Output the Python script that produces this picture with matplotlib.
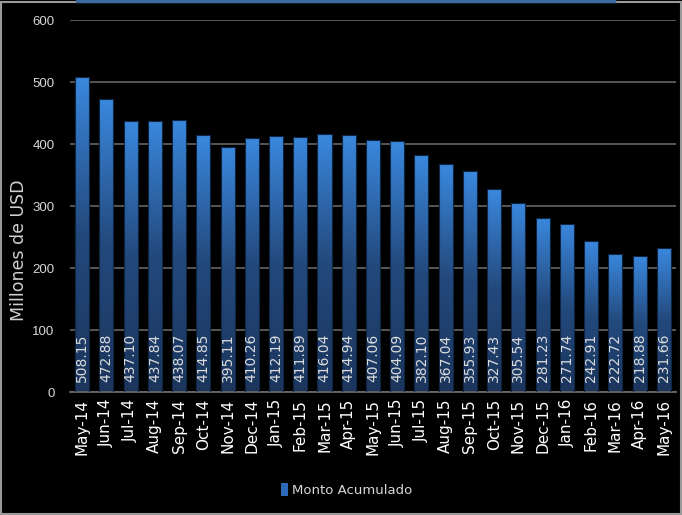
import matplotlib.pyplot as plt
import numpy as np
from matplotlib.colors import LinearSegmentedColormap
from matplotlib.patches import Rectangle
from matplotlib.lines import Line2D

# monthly data <<<
months = ["May-14", "Jun-14", "Jul-14", "Aug-14", "Sep-14", "Oct-14", "Nov-14",
          "Dec-14", "Jan-15", "Feb-15", "Mar-15", "Apr-15", "May-15", "Jun-15",
          "Jul-15", "Aug-15", "Sep-15", "Oct-15", "Nov-15", "Dec-15", "Jan-16",
          "Feb-16", "Mar-16", "Apr-16", "May-16"]
monto = [508.15, 472.88, 437.10, 437.84, 438.07, 414.85, 395.11, 410.26, 412.19,
         411.89, 416.04, 414.94, 407.06, 404.09, 382.10, 367.04, 355.93, 327.43,
         305.54, 281.23, 271.74, 242.91, 222.72, 218.88, 231.66]
# >>>

bg = "black"
grad = LinearSegmentedColormap.from_list("bar", ["#1b355c", "#23497c", "#3a88de"])

fig = plt.figure(figsize=(6.82, 5.15), dpi=100, facecolor=bg)
ax = fig.add_axes([0.1026, 0.2388, 0.8886, 0.7223], facecolor=bg)

x = np.arange(len(months))
bars = ax.bar(x, monto, width=0.58, color="none", edgecolor="#0f2544",
              linewidth=0.8, zorder=3)

# vertical gradient inside each bar
g = np.linspace(0, 1, 256).reshape(-1, 1)
for b in bars:
    x0, w, h = b.get_x(), b.get_width(), b.get_height()
    im = ax.imshow(g, cmap=grad, origin="lower", aspect="auto",
                   extent=(x0, x0 + w, 0, h), zorder=2)
    im.set_clip_path(b)

for xi, v in zip(x, monto):
    ax.text(xi, 16, f"{v:.2f}", rotation=90, ha="center", va="bottom",
            color="#dcdcdc", fontsize=10, zorder=4)

ax.set_xlim(-0.5, len(months) - 0.5)
ax.set_ylim(0, 600)
ax.set_yticks(range(0, 601, 100))
ax.yaxis.grid(True, color="#5e5e5e", linewidth=1.3, zorder=0)
ax.set_axisbelow(True)
for s in ["top", "right", "left"]:
    ax.spines[s].set_visible(False)
ax.spines["bottom"].set_color("#6a6a6a")
ax.spines["bottom"].set_linewidth(1.3)

ax.set_xticks(x)
ax.set_xticklabels(months, rotation=90, color="white", fontsize=11)
ax.tick_params(axis="x", length=0, pad=5)
ax.tick_params(axis="y", length=0, pad=11, labelcolor="#d8d8d8", labelsize=9.5)
for lbl in ax.get_yticklabels():
    lbl.set_family("Liberation Sans")

fig.text(0.028, 0.515, "Millones de USD", rotation=90, color="#d0d0d0",
         fontsize=12.5, ha="center", va="center")

# legend
handle = Rectangle((0, 0), 1, 1, facecolor="#2d6bb8", edgecolor="none")
fig.legend([handle], ["Monto Acumulado"], loc="center", bbox_to_anchor=(0.508, 0.048),
           frameon=False, labelcolor="#d8d8d8", fontsize=9.5,
           handlelength=0.5, handleheight=1.1, handletextpad=0.3)

# frame around the figure
fig.add_artist(Rectangle((0.001, 0.001), 0.997, 0.996, transform=fig.transFigure,
                         fill=False, edgecolor="#9a9a9a", linewidth=1.5))
fig.add_artist(Line2D([77 / 682, 614 / 682], [0.998, 0.998], transform=fig.transFigure,
                      color="#3a6aa0", linewidth=2.5))

plt.savefig("out.png", dpi=100, facecolor=bg)
